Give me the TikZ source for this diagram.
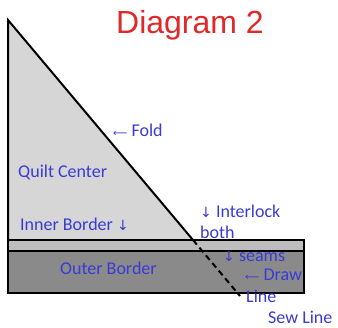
\documentclass[tikz,border=0pt]{standalone}
\usepackage{fontspec}
\setmainfont{Carlito}
\newfontfamily\arrowfont{DejaVu Sans}
\newfontfamily\titlefont{Liberation Sans}
\definecolor{lbl}{HTML}{3A3AD6}
\definecolor{ttl}{HTML}{E02828}
\definecolor{center}{HTML}{D6D6D6}
\definecolor{inner}{HTML}{BDBDBD}
\definecolor{outer}{HTML}{8A8A8A}
\tikzset{
  lab/.style={anchor=west, inner sep=0pt, text=lbl, font=\fontsize{18}{20}\selectfont},
  piece/.style={draw=black, line width=1.6pt, line join=miter},
}
\newcommand{\la}{{\arrowfont\fontsize{10}{12}\selectfont ⟵}}
\newcommand{\da}{{\arrowfont\fontsize{14}{14}\selectfont ↓}}
\begin{document}
\begin{tikzpicture}[x=1pt,y=-1pt]
\useasboundingbox (0,0) rectangle (338,328);
% pieces
\coordinate (top) at (8,20);
\coordinate (corner) at (8,240);
\coordinate (tip) at (193,240);
\coordinate (sewend) at (240,296);
\fill[center] (top) -- (corner) -- (tip) -- cycle;
\draw[piece, fill=inner] (8,240) rectangle (304,251);
\draw[piece, fill=outer] (8,251) rectangle (304,293);
\draw[piece, line width=2pt] (8,240) -- (top) -- (tip);
\draw[black, line width=2pt, dashed, dash pattern=on 6pt off 4pt] (tip) -- (sewend);
% title
\node[inner sep=0pt, text=ttl, font=\titlefont\fontsize{32}{34}\selectfont] (title) at (190,25) {Diagram 2};
% labels
\node[lab] (fold) at (113,130) {\la\ Fold};
\node[lab] (qc) at (18,172) {Quilt Center};
\node[lab] (ib) at (20,224) {Inner Border \da};
\node[lab] (il) at (200,211) {\da\ Interlock};
\node[lab] (both) at (200,232) {both};
\node[lab] (seams) at (223,256) {\da\ seams};
\node[lab] (ob) at (60,268) {Outer Border};
\node[lab] (draw) at (245,275) {\la\ Draw};
\node[lab] (line) at (246,296) {Line};
\node[lab] (sew) at (268,317) {Sew Line};
\end{tikzpicture}
\end{document}
